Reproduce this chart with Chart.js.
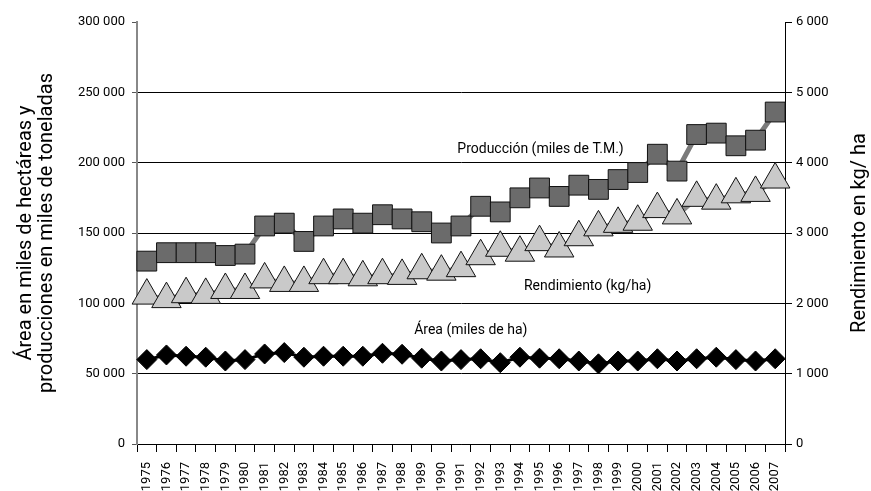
<!DOCTYPE html>
<html>
<head>
<meta charset="utf-8">
<script src="https://cdn.jsdelivr.net/npm/chart.js@4"></script>
<style>
  html, body { margin: 0; padding: 0; background: #fff; }
  #wrap { width: 871px; height: 491px; }
</style>
</head>
<body>
<div id="wrap"><canvas id="myChart" width="871" height="491"></canvas></div>
<script>
// years on the x axis
var years = ['1975','1976','1977','1978','1979','1980','1981','1982','1983','1984','1985',
  '1986','1987','1988','1989','1990','1991','1992','1993','1994','1995','1996','1997',
  '1998','1999','2000','2001','2002','2003','2004','2005','2006','2007'];

// Producción (miles de T.M.) - left axis
var produccion = [130000, 136000, 136000, 136000, 134000, 135000, 155000, 157000, 144000, 155000, 160000,
  157000, 163000, 160000, 158000, 150000, 155000, 169000, 165000, 175000, 182000, 176000, 184000,
  181000, 188000, 193000, 206000, 194000, 220000, 221000, 212000, 216000, 236000];

// Rendimiento (kg/ha) - right axis
var rendimiento = [2110, 2060, 2130, 2120, 2190, 2190, 2340, 2290, 2290, 2400, 2400,
  2370, 2400, 2390, 2470, 2450, 2500, 2670, 2790, 2720, 2870, 2780, 2940,
  3080, 3130, 3160, 3340, 3250, 3500, 3460, 3550, 3570, 3760];

// Área (miles de ha) - left axis
var area = [60000, 63300, 62400, 61700, 59000, 60000, 64000, 65000, 61700, 62400, 62400,
  62400, 64500, 63800, 61000, 59000, 60000, 60600, 57800, 61700, 61000, 60600, 59000,
  57000, 59000, 59000, 60600, 59000, 60600, 61700, 60000, 59000, 60600];

var leftTicks = [0, 50000, 100000, 150000, 200000, 250000, 300000];
var rightTicks = [0, 1000, 2000, 3000, 4000, 5000, 6000];

var FONT = "'Liberation Sans Narrow', 'Roboto', sans-serif";

function fmt(v) {
  return String(v).replace(/\B(?=(\d{3})+(?!\d))/g, ' ');
}

// text labels inside the plot and the axis titles
var labelsPlugin = {
  id: 'labels',
  afterDraw: function (chart) {
    var ctx = chart.ctx;
    var x = chart.scales.x, y = chart.scales.y;
    var a = chart.chartArea;
    ctx.save();
    ctx.fillStyle = '#000';
    ctx.textAlign = 'center';
    ctx.textBaseline = 'middle';
    ctx.font = '14px ' + FONT;
    var notes = [
      ['Producción (miles de T.M.)', 20.05, 209500],
      ['Rendimiento (kg/ha)', 22.45, 112000],
      ['Área (miles de ha)', 16.5, 81000]
    ];
    notes.forEach(function (n) {
      ctx.fillText(n[0], x.getPixelForValue(n[1]), y.getPixelForValue(n[2]));
    });

    var midY = (a.top + a.bottom) / 2;
    ctx.font = '20px ' + FONT;
    ctx.translate(26, midY);
    ctx.rotate(-Math.PI / 2);
    ctx.fillText('Área en miles de hectáreas y', 0, 0);
    ctx.fillText('producciones en miles de toneladas', 0, 21);
    ctx.restore();

    ctx.save();
    ctx.fillStyle = '#000';
    ctx.textAlign = 'center';
    ctx.textBaseline = 'middle';
    ctx.font = '20px ' + FONT;
    ctx.translate(860, midY);
    ctx.rotate(-Math.PI / 2);
    ctx.fillText('Rendimiento en kg/ ha', 0, 0);
    ctx.restore();
  }
};

var ctx = document.getElementById('myChart').getContext('2d');
var chart = new Chart(ctx, {
  type: 'line',
  data: {
    labels: years,
    datasets: [
      {
        label: 'Área (miles de ha)',
        data: area,
        yAxisID: 'y',
        borderColor: '#000',
        borderWidth: 3,
        pointStyle: 'rectRot',
        pointRadius: 10,
        pointBackgroundColor: '#000',
        pointBorderColor: '#000',
        pointBorderWidth: 1
      },
      {
        label: 'Producción (miles de T.M.)',
        data: produccion,
        yAxisID: 'y',
        borderColor: '#7a7a7a',
        borderWidth: 5,
        pointStyle: 'rect',
        pointRadius: 14,
        pointBackgroundColor: '#6b6b6b',
        pointBorderColor: '#111',
        pointBorderWidth: 1
      },
      {
        label: 'Rendimiento (kg/ha)',
        data: rendimiento,
        yAxisID: 'y2',
        borderColor: '#8c8c8c',
        borderWidth: 5,
        pointStyle: 'triangle',
        pointRadius: 17,
        pointBackgroundColor: '#c9c9c9',
        pointBorderColor: '#111',
        pointBorderWidth: 1
      }
    ]
  },
  options: {
    responsive: false,
    animation: false,
    layout: { padding: { top: 22, left: 0, right: 0, bottom: 0 } },
    plugins: { legend: { display: false }, tooltip: { enabled: false } },
    scales: {
      x: {
        offset: true,
        afterFit: function (s) { s.height = 47; },
        grid: { offset: true, drawOnChartArea: false, tickLength: 8, color: '#000' },
        border: { color: '#000', width: 1 },
        ticks: { autoSkip: false, minRotation: 90, maxRotation: 90, padding: 10, color: '#000', font: { family: FONT, size: 13 } }
      },
      y: {
        position: 'left',
        min: leftTicks[0],
        max: leftTicks[leftTicks.length - 1],
        afterFit: function (s) { s.width = 137; },
        afterBuildTicks: function (s) { s.ticks = leftTicks.map(function (v) { return { value: v }; }); },
        grid: {
          color: function (c) { return c.tick && c.tick.value === 300000 ? 'rgba(0,0,0,0)' : '#000'; },
          tickColor: '#555',
          tickLength: 5
        },
        border: { color: '#888', width: 2 },
        ticks: { padding: 7, color: '#000', font: { family: FONT, size: 13 }, callback: function (v) { return fmt(v); } }
      },
      y2: {
        position: 'right',
        min: rightTicks[0],
        max: rightTicks[rightTicks.length - 1],
        afterFit: function (s) { s.width = 86; },
        afterBuildTicks: function (s) { s.ticks = rightTicks.map(function (v) { return { value: v }; }); },
        grid: { drawOnChartArea: false, tickLength: 7, color: '#000' },
        border: { color: '#000', width: 1 },
        ticks: { padding: 4, color: '#000', font: { family: FONT, size: 13 }, callback: function (v) { return fmt(v); } }
      }
    }
  },
  plugins: [labelsPlugin]
});
</script>
</body>
</html>
